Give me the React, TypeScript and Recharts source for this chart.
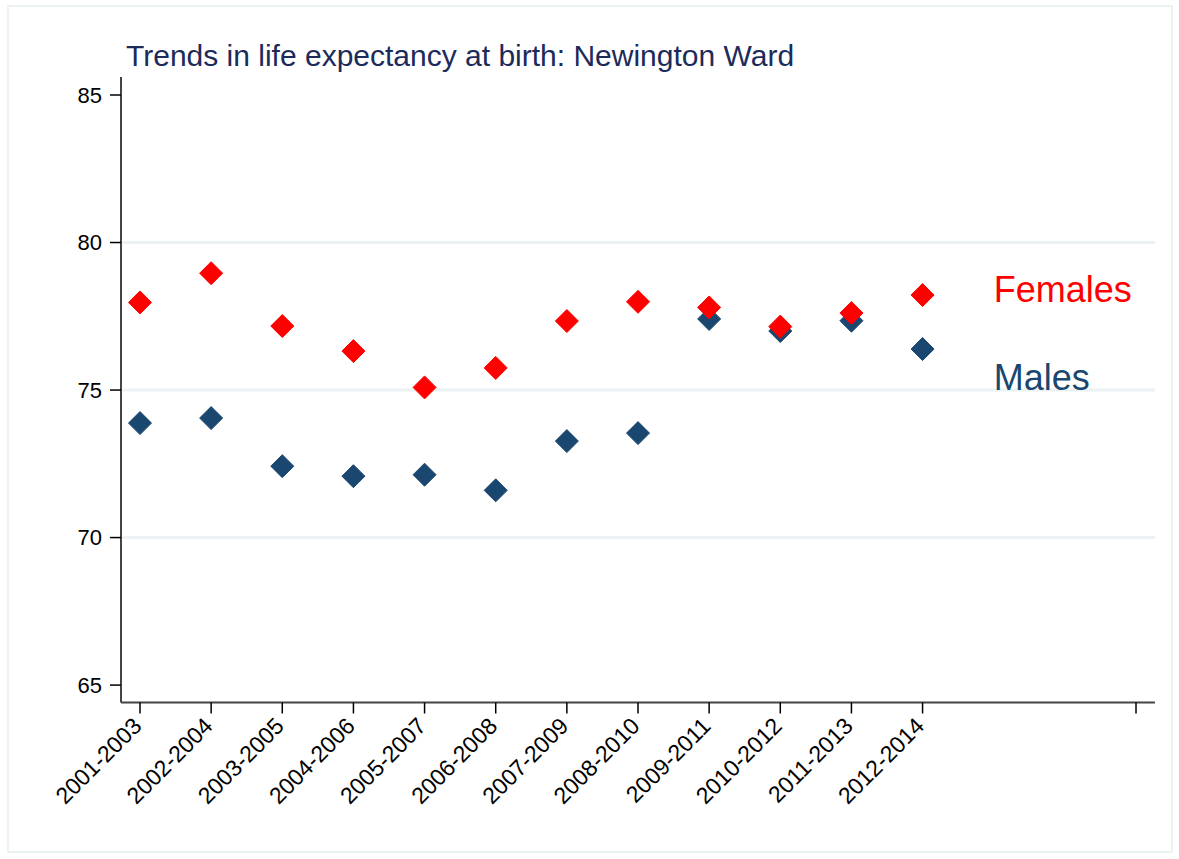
import React from 'react';
import { ScatterChart, Scatter, XAxis, YAxis, ReferenceLine } from 'recharts';

const categories = [
  '2001-2003', '2002-2004', '2003-2005', '2004-2006', '2005-2007', '2006-2008',
  '2007-2009', '2008-2010', '2009-2011', '2010-2012', '2011-2013', '2012-2014',
];
const females = [77.97, 78.96, 77.17, 76.32, 75.09, 75.75, 77.34, 77.99, 77.8, 77.15, 77.61, 78.22];
const males = [73.88, 74.05, 72.42, 72.08, 72.13, 71.6, 73.27, 73.54, 77.41, 77.0, 77.35, 76.39];
const xTicks = [1, 2, 3, 4, 5, 6, 7, 8, 9, 10, 11, 12, 15];
const yTicks = [65, 70, 75, 80, 85];
const gridValues = [70, 75, 80];
const seriesLabels = [
  { name: 'Females', x: 13, y: 78, color: '#ff0000' },
  { name: 'Males', x: 13, y: 75, color: '#1a476f' },
];
const title = 'Trends in life expectancy at birth: Newington Ward';

const FONT = '"Liberation Sans", Arial, Helvetica, sans-serif';
const FEMALE_COLOR = '#ff0000';
const MALE_COLOR = '#1a476f';

const femaleData = categories.map((c, i) => ({ x: i + 1, y: females[i], cat: c }));
const maleData = categories.map((c, i) => ({ x: i + 1, y: males[i], cat: c }));

const makeDiamond = (color: string) => (p: any) => {
  const { cx, cy } = p;
  if (cx == null || cy == null) return <g />;
  const r = 11.5;
  return (
    <polygon
      points={`${cx},${cy - r} ${cx + r},${cy} ${cx},${cy + r} ${cx - r},${cy}`}
      fill={color}
      stroke={color}
      strokeWidth={1}
      strokeLinejoin="round"
    />
  );
};

const XTick = (props: any) => {
  const { x, y, payload } = props;
  const label = categories[payload.value - 1] ?? '';
  const ax = x + 3;
  const ay = y + 14;
  return (
    <text
      x={ax}
      y={ay}
      transform={`rotate(-45, ${ax}, ${ay})`}
      textAnchor="end"
      fontSize={23}
      fontFamily={FONT}
      fill="#000"
    >
      {label}
    </text>
  );
};

const makeLabel = (text: string, color: string) => (p: any) => {
  const { cx, cy } = p;
  if (cx == null || cy == null) return <g />;
  return (
    <text x={cx} y={cy} textAnchor="start" fontSize={36} fontFamily={FONT} fill={color}>
      {text}
    </text>
  );
};

export default function App() {
  return (
    <div style={{ position: 'absolute', left: 0, top: 0, width: 1179, height: 859, background: '#fff' }}>
      <div
        style={{
          position: 'absolute',
          left: 7,
          top: 5,
          width: 1166,
          height: 848,
          boxSizing: 'border-box',
          border: '2px solid #eaf2f4',
        }}
      />
      <div
        style={{
          position: 'absolute',
          left: 126,
          top: 41,
          fontFamily: FONT,
          fontSize: 30,
          lineHeight: '30px',
          color: '#1c2b5a',
          whiteSpace: 'nowrap',
        }}
      >
        {title}
      </div>
      <div style={{ position: 'absolute', left: 0, top: 0 }}>
        <ScatterChart
          width={1179}
          height={859}
          margin={{ top: 77, right: 24, bottom: 56.5, left: 41 }}
        >
          <XAxis
            type="number"
            dataKey="x"
            domain={[0.733, 15.267]}
            ticks={xTicks}
            interval={0}
            allowDataOverflow
            height={100}
            tickSize={11}
            tickMargin={0}
            tick={<XTick />}
            tickLine={{ stroke: '#000', strokeWidth: 1.5 }}
            axisLine={{ stroke: '#444', strokeWidth: 2 }}
          />
          <YAxis
            type="number"
            dataKey="y"
            domain={[64.41, 85.61]}
            ticks={yTicks}
            interval={0}
            allowDataOverflow
            width={80}
            tickSize={11}
            tickMargin={8}
            tick={{ fontSize: 22, fill: '#000', fontFamily: FONT }}
            tickLine={{ stroke: '#000', strokeWidth: 1.5 }}
            axisLine={{ stroke: '#444', strokeWidth: 2 }}
          />
          {gridValues.map((v) => (
            <ReferenceLine key={v} y={v} stroke="#eaf2f3" strokeWidth={3} />
          ))}
          <Scatter name="Males" data={maleData} shape={makeDiamond(MALE_COLOR)} isAnimationActive={false} />
          <Scatter name="Females" data={femaleData} shape={makeDiamond(FEMALE_COLOR)} isAnimationActive={false} />
          {seriesLabels.map((s) => (
            <Scatter
              key={s.name}
              name={s.name + ' label'}
              data={[{ x: s.x, y: s.y }]}
              shape={makeLabel(s.name, s.color)}
              isAnimationActive={false}
            />
          ))}
        </ScatterChart>
      </div>
    </div>
  );
}
